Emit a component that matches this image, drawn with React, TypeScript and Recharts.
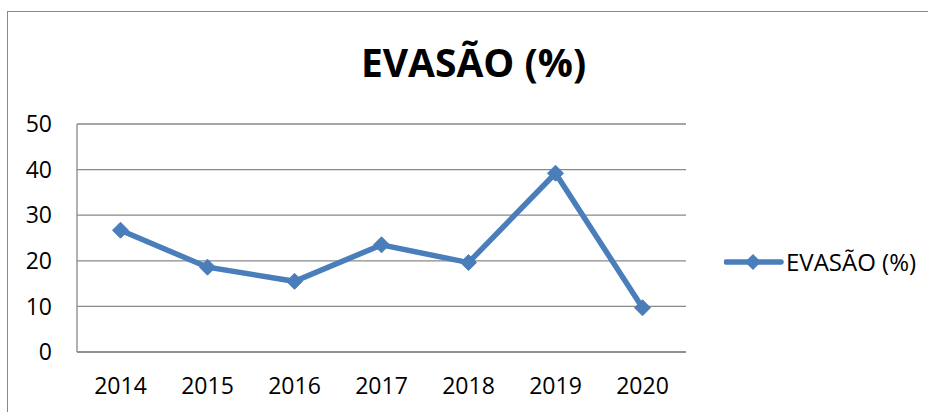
import React from 'react';
import { LineChart, Line, XAxis, YAxis, CartesianGrid } from 'recharts';

const years = ['2014', '2015', '2016', '2017', '2018', '2019', '2020'];
const evasao = [26.7, 18.6, 15.5, 23.5, 19.6, 39.2, 9.7];
const yTicks = [0, 10, 20, 30, 40, 50];

const data = years.map((year, i) => ({ year, evasao: evasao[i] }));

const BLUE = '#4a7ebb';
const GRID = '#898989';
const FONT = '"Open Sans", "Liberation Sans", sans-serif';

const Diamond = (props: any) => {
  const { cx, cy, index } = props;
  if (cx == null || cy == null) return null;
  const r = 8;
  return (
    <path
      key={`d-${index}`}
      d={`M${cx},${cy - r} L${cx + r},${cy} L${cx},${cy + r} L${cx - r},${cy} Z`}
      fill={BLUE}
      stroke={BLUE}
    />
  );
};

const App: React.FC = () => {
  return (
    <div style={{ position: 'absolute', left: 0, top: 0, width: 928, height: 412, background: 'white', overflow: 'hidden' }}>
      <div
        style={{
          position: 'absolute',
          left: 7,
          top: 11,
          width: 940,
          height: 420,
          borderLeft: `1.5px solid ${GRID}`,
          borderTop: `1.5px solid ${GRID}`,
        }}
      />
      <div
        style={{
          position: 'absolute',
          left: 0,
          width: 947,
          top: 37,
          textAlign: 'center',
          fontFamily: FONT,
          fontWeight: 700,
          fontSize: 39,
          lineHeight: '50px',
          color: '#000',
        }}
      >
        EVASÃO (%)
      </div>
      <div style={{ position: 'absolute', left: 0, top: 0 }}>
        <LineChart width={928} height={412} data={data} margin={{ top: 124, right: 242, bottom: 0, left: 0 }}>
          <CartesianGrid vertical={false} stroke={GRID} strokeWidth={1.3} />
          <XAxis
            dataKey="year"
            height={60}
            padding={{ left: 43.5, right: 43.5 }}
            tickLine={false}
            tickSize={0}
            tickMargin={26}
            axisLine={{ stroke: GRID, strokeWidth: 1.3 }}
            tick={{ fontSize: 23, fill: '#000', fontFamily: FONT }}
            interval={0}
          />
          <YAxis
            width={77}
            domain={[0, 50]}
            ticks={yTicks}
            tickLine={false}
            tickSize={0}
            tickMargin={25}
            axisLine={{ stroke: GRID, strokeWidth: 1.3 }}
            tick={{ fontSize: 23, fill: '#000', fontFamily: FONT }}
          />
          <Line
            type="linear"
            dataKey="evasao"
            stroke={BLUE}
            strokeWidth={5.5}
            dot={Diamond}
            activeDot={false}
            isAnimationActive={false}
          />
        </LineChart>
      </div>
      <div style={{ position: 'absolute', left: 724, top: 247, display: 'flex', alignItems: 'center' }}>
        <svg width={60} height={30}>
          <line x1={2} y1={15} x2={57} y2={15} stroke={BLUE} strokeWidth={5.5} strokeLinecap="round" />
          <path d="M29,7 L37,15 L29,23 L21,15 Z" fill={BLUE} />
        </svg>
        <span style={{ fontFamily: FONT, fontSize: 24, color: '#000', marginLeft: 2, lineHeight: '30px' }}>EVASÃO (%)</span>
      </div>
    </div>
  );
};

export default App;
